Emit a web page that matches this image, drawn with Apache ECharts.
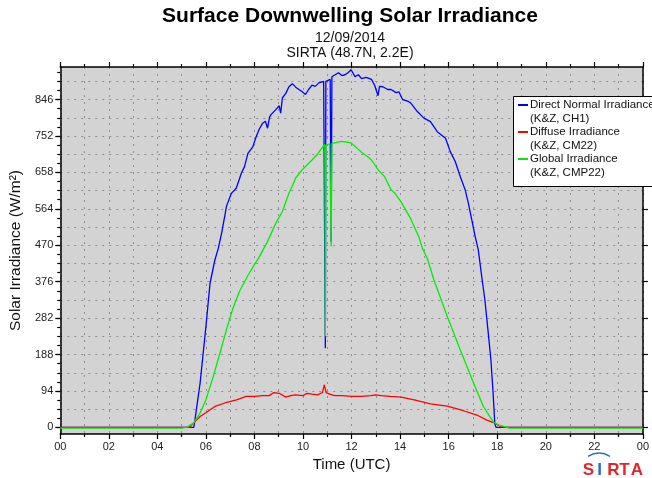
<!DOCTYPE html>
<html>
<head>
<meta charset="utf-8">
<script src="https://cdn.jsdelivr.net/npm/echarts@6/dist/echarts.min.js"></script>
<style>
  html, body { margin: 0; padding: 0; background: #ffffff; }
  #chart { width: 652px; height: 478px; }
</style>
</head>
<body>
<div id="chart"></div>
<script>
// Tick labels
const xTickLabels = ['00', '02', '04', '06', '08', '10', '12', '14', '16', '18', '20', '22', '00'];
const yTickValues = [0, 94, 188, 282, 376, 470, 564, 658, 752, 846];

// Direct normal irradiance (K&Z, CH1) — time in hours UTC, value in W/m2
const dniHours = [0, 5.50, 5.55, 5.76, 6.00, 6.17, 6.37, 6.51, 6.65, 6.85, 7.05, 7.25, 7.46, 7.59, 7.73, 7.93,
  8.07, 8.20, 8.34, 8.45, 8.54, 8.62, 8.68, 8.88, 9.02, 9.08, 9.15, 9.29, 9.42, 9.56, 9.70, 9.83, 9.97,
  10.10, 10.23, 10.37, 10.50, 10.65, 10.85, 10.90, 10.92, 10.94, 11.02, 11.12, 11.16, 11.19, 11.26, 11.46,
  11.60, 11.73, 11.85, 11.98, 12.14, 12.28, 12.41, 12.60, 12.82, 12.95, 13.09, 13.15, 13.29, 13.49, 13.63,
  13.83, 13.95, 14.10, 14.31, 14.44, 14.71, 14.98, 15.25, 15.53, 15.87, 16.07, 16.27, 16.48, 16.68, 16.81,
  16.95, 17.09, 17.22, 17.36, 17.49, 17.63, 17.74, 17.83, 17.90, 17.95, 24];
const dniValues = [0, 0, 20, 114, 260, 372, 432, 462, 502, 571, 604, 617, 656, 673, 707, 724,
  750, 770, 785, 790, 772, 800, 807, 820, 830, 811, 850, 862, 879, 887, 878, 872, 866,
  859, 872, 883, 880, 889, 893, 893, 204, 893, 896, 898, 480, 905, 910, 915,
  908, 910, 915, 923, 905, 910, 900, 903, 898, 883, 856, 880, 879, 872, 872,
  864, 866, 846, 842, 837, 815, 798, 789, 763, 746, 711, 686, 647, 613, 579,
  536, 493, 458, 390, 330, 244, 174, 89, 10, 0, 0];

// Diffuse irradiance (K&Z, CM22)
const difHours = [0, 5.30, 5.49, 5.76, 6.00, 6.37, 6.78, 7.26, 7.66, 8.00, 8.34, 8.61, 8.80, 9.02, 9.29, 9.50,
  9.69, 10.00, 10.17, 10.37, 10.60, 10.80, 10.88, 10.95, 11.10, 11.30, 11.60, 12.00, 12.40, 12.80, 13.00,
  13.22, 13.60, 14.04, 14.58, 15.25, 15.94, 16.61, 17.16, 17.57, 17.90, 18.10, 18.37, 24];
const difValues = [0, 0, 11, 28, 38, 54, 63, 71, 80, 80, 82, 82, 90, 88, 78, 82,
  84, 82, 88, 86, 84, 90, 110, 90, 86, 82, 82, 80, 80, 82, 84,
  82, 80, 78, 71, 61, 55, 43, 32, 19, 11, 4, 0, 0];

// Global irradiance (K&Z, CMP22)
const ghiHours = [0, 5.00, 5.20, 5.49, 5.76, 6.00, 6.30, 6.58, 6.85, 7.12, 7.39, 7.73, 8.00, 8.20, 8.54, 8.88,
  9.15, 9.42, 9.56, 9.69, 9.97, 10.37, 10.60, 10.78, 10.90, 10.92, 10.94, 11.10, 11.16, 11.19, 11.26, 11.60,
  11.98, 12.20, 12.41, 12.68, 12.82, 13.09, 13.36, 13.63, 13.77, 14.04, 14.44, 14.78, 14.92, 15.12, 15.39,
  15.94, 16.48, 17.02, 17.43, 17.83, 18.04, 18.31, 18.50, 24];
const ghiValues = [-2, -2, 0, 11, 37, 71, 131, 192, 253, 309, 352, 392, 420, 440, 480, 527,
  557, 604, 623, 643, 665, 690, 705, 721, 730, 235, 728, 732, 467, 733, 730, 738,
  734, 722, 710, 698, 690, 665, 647, 613, 605, 582, 538, 490, 462, 436, 381,
  287, 200, 115, 54, 15, 6, 2, -2, -2];

function toPairs(hours, values) {
  return hours.map((h, i) => [h, values[i]]);
}
function stepValues(start, end, step) {
  const out = [];
  for (let v = start; v <= end + 1e-9; v += step) out.push(Math.round(v * 10) / 10);
  return out;
}

const FONT = '"Liberation Sans", Arial, sans-serif';
const Y_MIN = -17, Y_MAX = 930;
const gridLineStyle = { color: '#8f8f8f', width: 1, type: [2, 5] };
const yMinorTicks = stepValues(0, 916.5, 23.5);
const yGridValues = stepValues(47, 893, 47);

const chart = echarts.init(document.getElementById('chart'), null, { renderer: 'canvas' });

const baseY = {
  type: 'value', min: Y_MIN, max: Y_MAX,
  axisLine: { show: false, onZero: false },
  axisTick: { show: false },
  axisLabel: { show: false },
  splitLine: { show: false }
};

// Legend entries drawn as a boxed key on top of the plot
const legendFont = '11.5px ' + FONT;
const legendItems = [
  { color: '#0000ff', lines: ['Direct Normal Irradiance', '(K&Z, CH1)'], y: 105 },
  { color: '#ff0000', lines: ['Diffuse Irradiance', '(K&Z, CM22)'], y: 132 },
  { color: '#00ee00', lines: ['Global Irradiance', '(K&Z, CMP22)'], y: 159 }
];
const legendChildren = [
  { type: 'rect', z: 200, shape: { x: 513.5, y: 96.5, width: 150, height: 90 },
    style: { fill: '#ffffff', stroke: '#000', lineWidth: 1 } }
];
legendItems.forEach((it) => {
  legendChildren.push({ type: 'line', z: 201, shape: { x1: 518, y1: it.y, x2: 528, y2: it.y },
    style: { stroke: it.color, lineWidth: 2 } });
  legendChildren.push({ type: 'text', z: 201, x: 530, y: it.y,
    style: { text: it.lines[0], font: legendFont, fill: '#111', textVerticalAlign: 'middle' } });
  legendChildren.push({ type: 'text', z: 201, x: 530, y: it.y + 13.5,
    style: { text: it.lines[1], font: legendFont, fill: '#111', textVerticalAlign: 'middle' } });
});

// SIRTA logo letters
const logoFont = 'bold 17px ' + FONT;
const logoLetters = [
  { ch: 'S', x: 588.5, color: '#e3262d' },
  { ch: 'I', x: 599.5, color: '#2a6fc4' },
  { ch: 'R', x: 613.5, color: '#e3262d' },
  { ch: 'T', x: 624.5, color: '#e3262d' },
  { ch: 'A', x: 637, color: '#e3262d' }
];
const logoChildren = [
  { type: 'arc', z: 100, shape: { cx: 599, cy: 475, r: 21.7, startAngle: -Math.PI / 2 - 0.53, endAngle: -Math.PI / 2 + 0.53 },
    style: { stroke: '#2a6fc4', fill: null, lineWidth: 1.5 } }
].concat(logoLetters.map((l) => ({
  type: 'text', z: 100, x: l.x, y: 470,
  style: { text: l.ch, font: logoFont, fill: l.color, textAlign: 'center', textVerticalAlign: 'middle' }
})));

const option = {
  animation: false,
  backgroundColor: '#ffffff',
  grid: {
    left: 55, right: 7, top: 67, bottom: 44,
    show: true, backgroundColor: '#d3d3d3', borderWidth: 0
  },
  xAxis: [
    {
      type: 'value', min: 0, max: 24, interval: 2, position: 'bottom',
      axisLine: { show: true, onZero: false, lineStyle: { color: '#000', width: 1.5 } },
      axisTick: { show: true, length: 5, lineStyle: { color: '#000', width: 1.2 } },
      minorTick: { show: true, splitNumber: 2, length: 3, lineStyle: { color: '#000', width: 1.2 } },
      axisLabel: {
        margin: 7, fontSize: 11, fontFamily: FONT, color: '#222',
        formatter: (v) => xTickLabels[Math.round(v / 2)]
      },
      splitLine: { show: true, lineStyle: gridLineStyle },
      minorSplitLine: { show: true, lineStyle: gridLineStyle },
      name: 'Time (UTC)', nameLocation: 'middle', nameGap: 20,
      nameTextStyle: { fontSize: 15, fontFamily: FONT, color: '#111' }
    },
    {
      type: 'value', min: 0, max: 24, interval: 2, position: 'top',
      axisLine: { show: true, onZero: false, lineStyle: { color: '#000', width: 1.5 } },
      axisTick: { show: true, length: 5, lineStyle: { color: '#000', width: 1.2 } },
      minorTick: { show: true, splitNumber: 2, length: 3, lineStyle: { color: '#000', width: 1.2 } },
      axisLabel: { show: false },
      splitLine: { show: false }
    }
  ],
  yAxis: [
    {
      type: 'value', min: Y_MIN, max: Y_MAX, position: 'left',
      axisLine: { show: true, onZero: false, lineStyle: { color: '#000', width: 1.5 } },
      axisTick: { show: true, length: 5, customValues: yTickValues, lineStyle: { color: '#000', width: 1.2 } },
      axisLabel: {
        customValues: yTickValues, margin: 7, fontSize: 11, fontFamily: FONT, color: '#222'
      },
      splitLine: { show: false },
      name: 'Solar Irradiance (W/m²)', nameLocation: 'middle', nameGap: 31,
      nameTextStyle: { fontSize: 15.5, fontFamily: FONT, color: '#111' }
    },
    Object.assign({}, baseY, {
      position: 'left',
      axisTick: { show: true, length: 3, customValues: yMinorTicks, lineStyle: { color: '#000', width: 1.2 } }
    }),
    Object.assign({}, baseY, {
      position: 'left',
      axisTick: { show: false, customValues: yGridValues },
      splitLine: { show: true, lineStyle: gridLineStyle }
    }),
    Object.assign({}, baseY, {
      position: 'right',
      axisLine: { show: true, onZero: false, lineStyle: { color: '#000', width: 1.5 } },
      axisTick: { show: true, length: 5, customValues: yTickValues, lineStyle: { color: '#000', width: 1.2 } }
    })
  ],
  series: [
    {
      name: 'Direct Normal Irradiance', type: 'line', showSymbol: false, clip: true,
      data: toPairs(dniHours, dniValues),
      lineStyle: { color: '#0000ff', width: 1.3 }, itemStyle: { color: '#0000ff' }, z: 3
    },
    {
      name: 'Diffuse Irradiance', type: 'line', showSymbol: false, clip: true,
      data: toPairs(difHours, difValues),
      lineStyle: { color: '#ff0000', width: 1.3 }, itemStyle: { color: '#ff0000' }, z: 4
    },
    {
      name: 'Global Irradiance', type: 'line', showSymbol: false, clip: true,
      data: toPairs(ghiHours, ghiValues),
      lineStyle: { color: '#00ee00', width: 1.3 }, itemStyle: { color: '#00ee00' }, z: 5
    }
  ],
  graphic: [
    // Titles
    {
      type: 'text', x: 350, y: 16, z: 50,
      style: { text: 'Surface Downwelling Solar Irradiance', font: 'bold 21px ' + FONT, fill: '#000',
        textAlign: 'center', textVerticalAlign: 'middle' }
    },
    {
      type: 'text', x: 350, y: 38, z: 50,
      style: { text: '12/09/2014', font: '14px ' + FONT, fill: '#111', textAlign: 'center', textVerticalAlign: 'middle' }
    },
    {
      type: 'text', x: 350, y: 53, z: 50,
      style: { text: 'SIRTA (48.7N, 2.2E)', font: '14px ' + FONT, fill: '#111', textAlign: 'center', textVerticalAlign: 'middle' }
    },
    // Legend box
    { type: 'group', z: 200, zlevel: 1, children: legendChildren },
    // Logo
    { type: 'group', z: 100, children: logoChildren }
  ]
};

chart.setOption(option);
</script>
</body>
</html>
